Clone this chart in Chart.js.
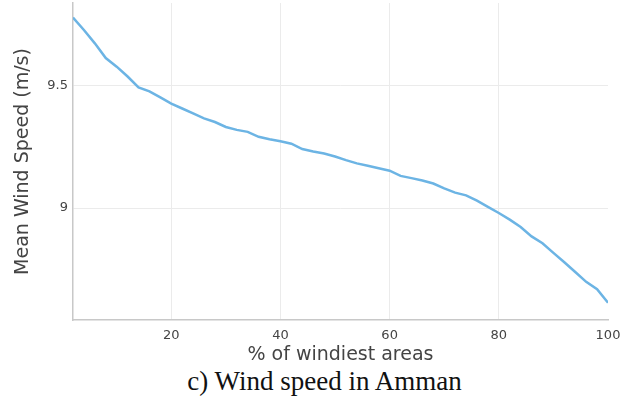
<!DOCTYPE html>
<html>
<head>
<meta charset="utf-8">
<script src="https://cdn.jsdelivr.net/npm/chart.js@4/dist/chart.umd.min.js"></script>
<style>
  html, body { margin: 0; padding: 0; background: #fff; }
  #wrap { position: relative; width: 633px; height: 366px; }
  #caption {
    width: 633px;
    box-sizing: border-box;
    padding-left: 16px;
    text-align: center;
    font-family: 'Liberation Serif', serif;
    font-size: 27px;
    line-height: 30px;
    color: #111;
  }
</style>
</head>
<body>
<div id="wrap"><canvas id="windchart"></canvas></div>
<div id="caption">c) Wind speed in Amman</div>
<script>
// % of windiest areas (x) and mean wind speed in m/s (y)
const areaPct = [2, 4, 6, 8, 10, 12, 14, 16, 18, 20, 22, 24, 26, 28, 30, 32, 34, 36, 38, 40,
  42, 44, 46, 48, 50, 52, 54, 56, 58, 60, 62, 64, 66, 68, 70, 72, 74, 76, 78, 80,
  82, 84, 86, 88, 90, 92, 94, 96, 98, 100];
const meanSpeed = [9.775, 9.724, 9.67, 9.61, 9.575, 9.535, 9.491, 9.475, 9.45, 9.425,
  9.405, 9.385, 9.365, 9.35, 9.33, 9.318, 9.31, 9.29, 9.28, 9.272,
  9.262, 9.24, 9.23, 9.222, 9.21, 9.195, 9.182, 9.172, 9.162, 9.152,
  9.131, 9.122, 9.112, 9.10, 9.08, 9.063, 9.052, 9.03, 9.005, 8.98,
  8.953, 8.923, 8.885, 8.857, 8.818, 8.78, 8.74, 8.70, 8.67, 8.615];
const xTicks = [20, 40, 60, 80, 100];
const yTicks = [9, 9.5];

const tickFont = { family: 'DejaVu Sans', size: 13 };
const titleFont = { family: 'DejaVu Sans', size: 19 };

document.addEventListener('DOMContentLoaded', function () {
  const ctx = document.getElementById('windchart');
  new Chart(ctx, {
    type: 'line',
    data: {
      datasets: [{
        label: 'Mean Wind Speed',
        data: areaPct.map((x, i) => ({ x: x, y: meanSpeed[i] })),
        borderColor: '#6cb4e4',
        borderWidth: 2.5,
        pointRadius: 0,
        tension: 0,
        fill: false
      }]
    },
    options: {
      responsive: true,
      maintainAspectRatio: false,
      animation: false,
      layout: { padding: { top: 3, right: 25, bottom: 0, left: 0 } },
      plugins: {
        legend: { display: false },
        tooltip: { enabled: false }
      },
      scales: {
        x: {
          type: 'linear',
          min: 2,
          max: 100,
          afterBuildTicks: s => { s.ticks = xTicks.map(v => ({ value: v })); },
          afterFit: s => { s.height = 46; },
          ticks: { font: tickFont, color: '#444', padding: 8, maxRotation: 0, autoSkip: false },
          grid: {
            drawTicks: false,
            color: c => (c.tick && c.tick.value === 100) ? 'rgba(0,0,0,0)' : '#ebebeb'
          },
          border: { color: '#c8c8c8', width: 1.5 },
          title: { display: true, text: '% of windiest areas', font: titleFont, color: '#444', padding: 0 }
        },
        y: {
          min: 8.545,
          max: 9.834,
          afterBuildTicks: s => { s.ticks = yTicks.map(v => ({ value: v })); },
          afterFit: s => { s.width = 73; s.paddingTop = 0; s.paddingBottom = 0; },
          ticks: {
            font: tickFont,
            color: '#444',
            padding: 5,
            callback: v => String(v)
          },
          grid: { drawTicks: false, color: '#ebebeb' },
          border: { color: '#c8c8c8', width: 1.5 },
          title: { display: true, text: 'Mean Wind Speed (m/s)', font: titleFont, color: '#444', padding: { top: 12, bottom: 0 } }
        }
      }
    }
  });
});
</script>
</body>
</html>
